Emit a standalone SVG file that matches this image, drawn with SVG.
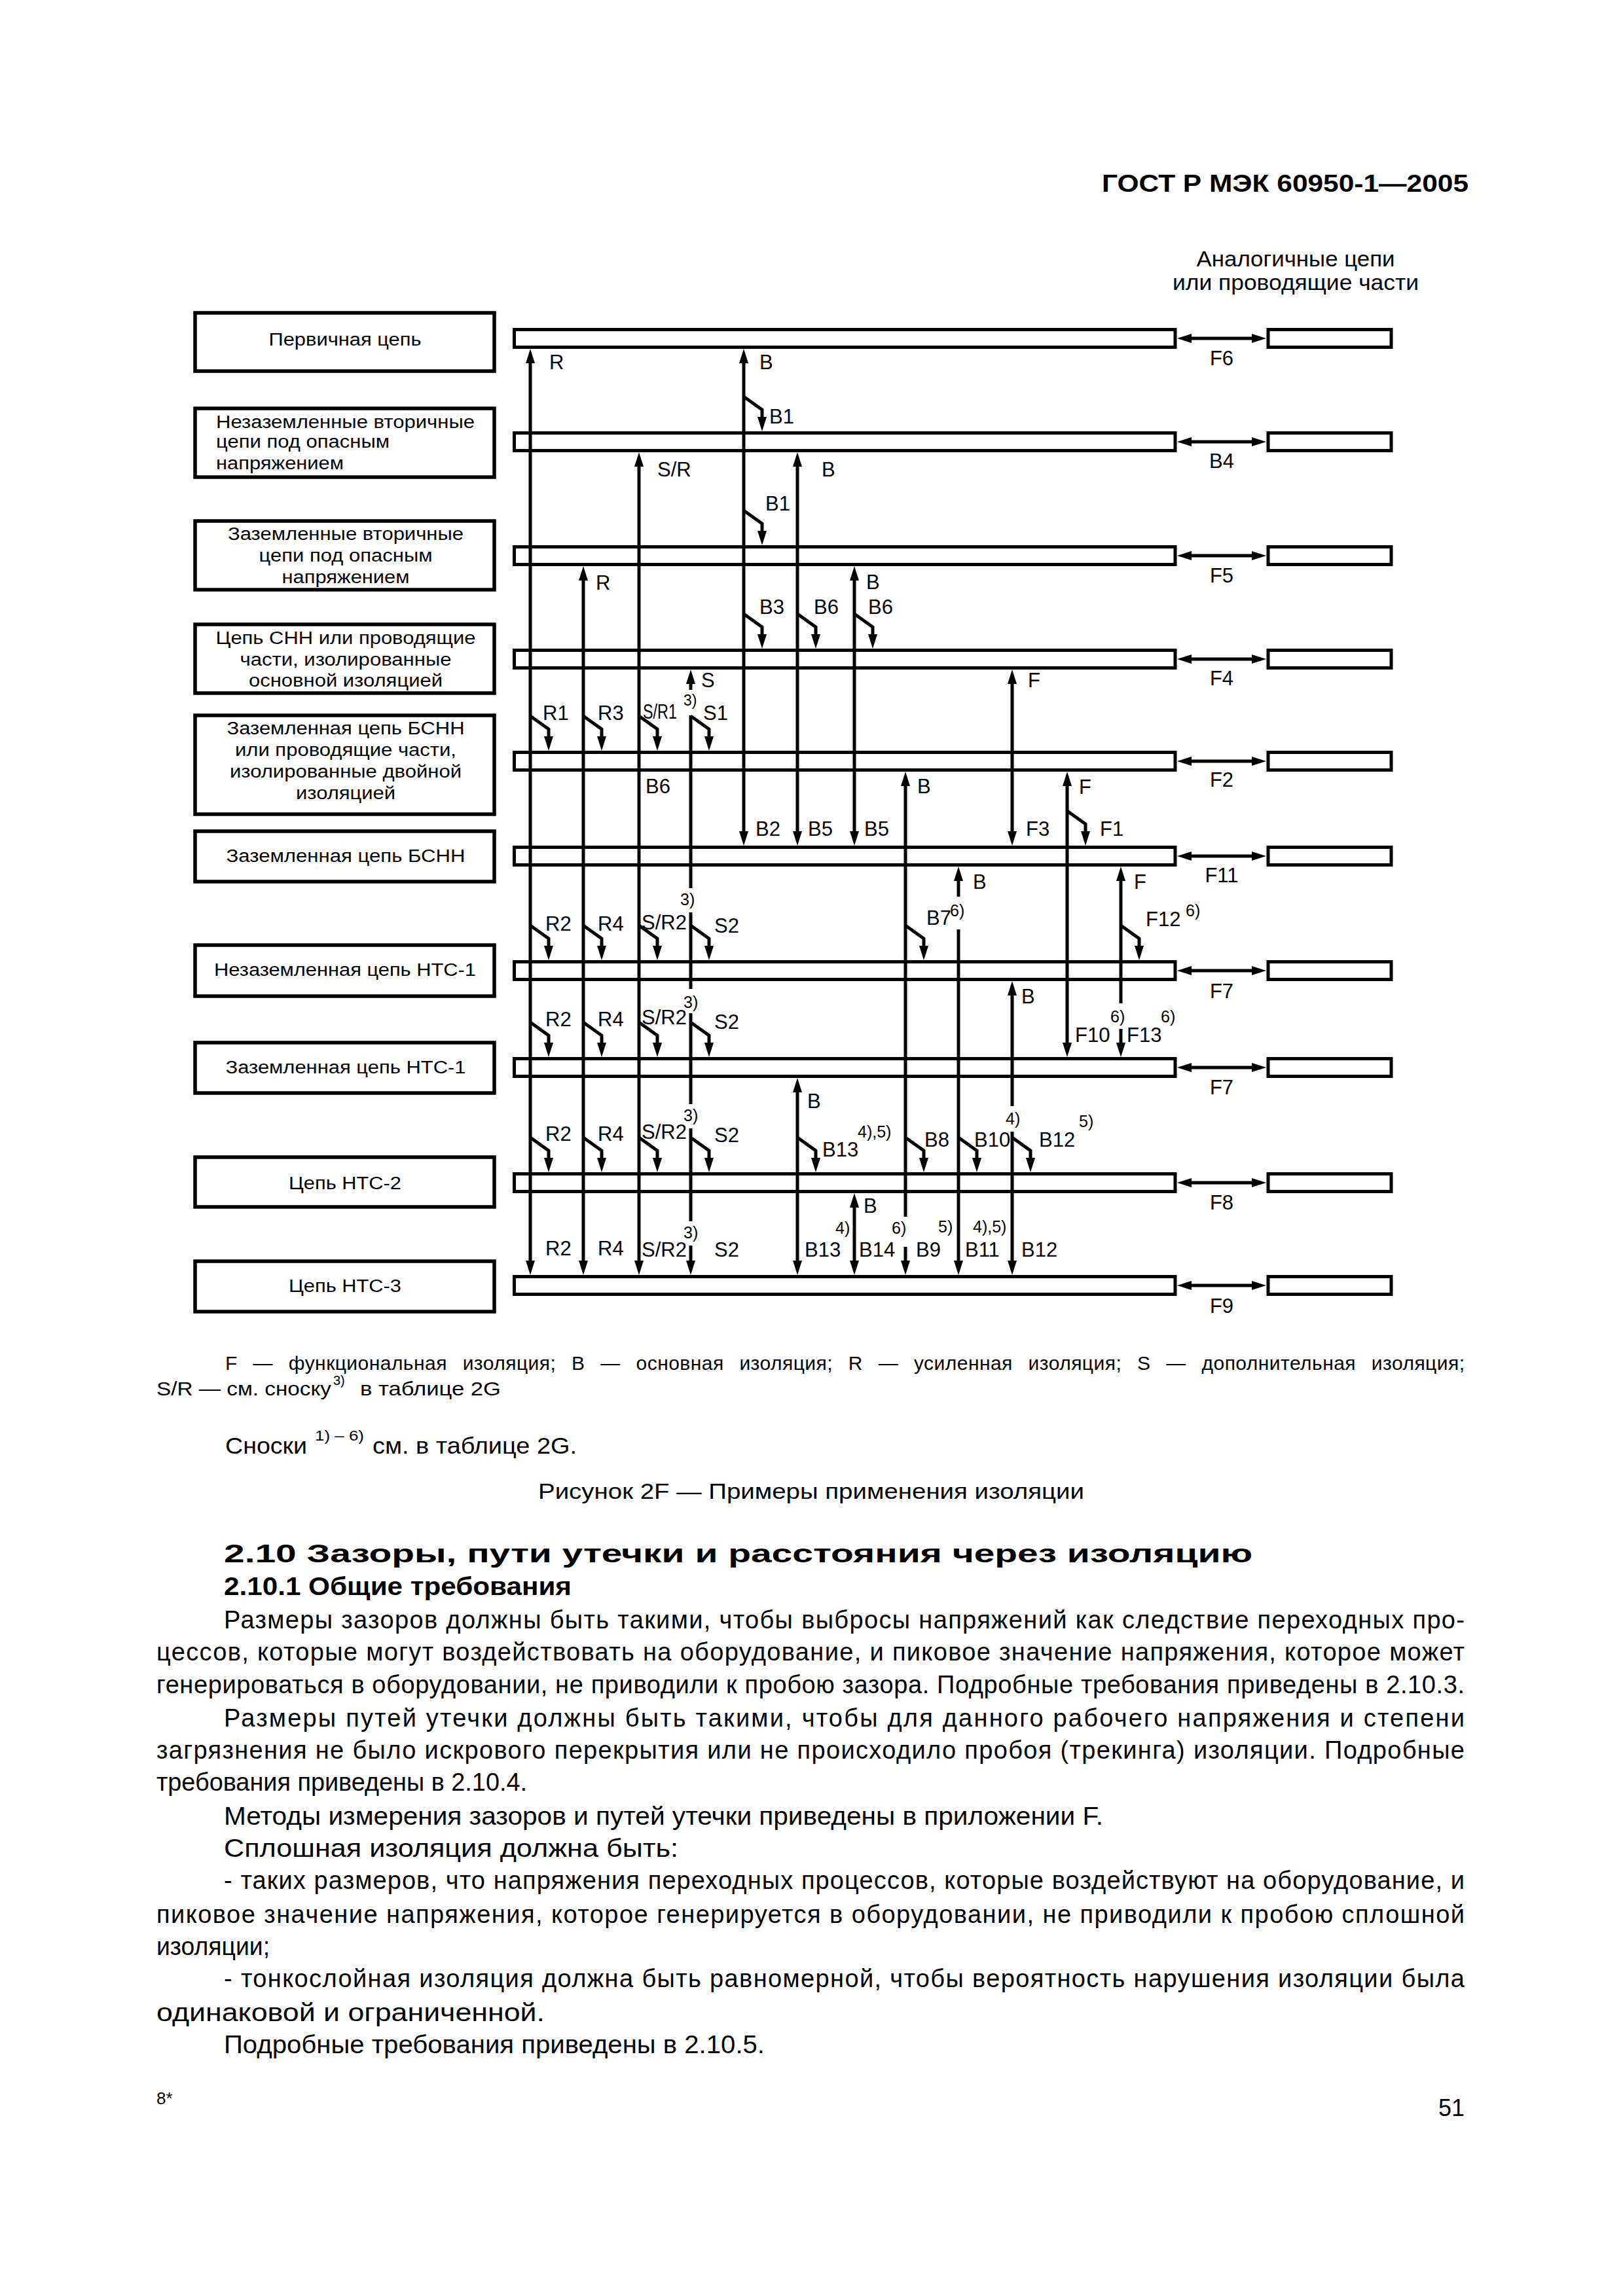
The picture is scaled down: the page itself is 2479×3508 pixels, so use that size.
<svg xmlns="http://www.w3.org/2000/svg" width="2479" height="3508" viewBox="0 0 2479 3508">
<defs>
<style>
text{font-family:"Liberation Sans",Arial,Helvetica,sans-serif;fill:#000}
.bx{fill:#fff;stroke:#000;stroke-width:5.5}
.bar{fill:none;stroke:#000;stroke-width:5}
.ln{fill:none;stroke:#000;stroke-width:5}
.s{marker-start:url(#ah)}
.e{marker-end:url(#ah)}
.lb{font-size:31px}
.sp{font-size:25px}
.bt{font-size:27px;text-anchor:middle}
.bl{font-size:27px}
.rl{font-size:31px;text-anchor:middle}
.body{font-size:38px}
.lg{font-size:30px}
</style>
<marker id="ah" viewBox="0 0 22 14" refX="10" refY="7" markerWidth="22" markerHeight="14" markerUnits="userSpaceOnUse" orient="auto-start-reverse"><path d="M0,0L22,7L0,14z" fill="#000"/></marker>
</defs>
<rect width="2479" height="3508" fill="#fff"/>

<text x="1683" y="293" font-size="37" font-weight="bold" textLength="560" lengthAdjust="spacingAndGlyphs">ГОСТ Р МЭК 60950-1—2005</text>
<text x="1979" y="407" font-size="33" text-anchor="middle" textLength="303" lengthAdjust="spacingAndGlyphs">Аналогичные цепи</text>
<text x="1979" y="443" font-size="33" text-anchor="middle" textLength="376" lengthAdjust="spacingAndGlyphs">или проводящие части</text>

<!-- left boxes -->
<g id="box-1"><rect class="bx" x="298" y="478" width="457" height="89"/><text class="bt" x="527" y="528" textLength="233" lengthAdjust="spacingAndGlyphs">Первичная цепь</text></g>
<g id="box-2"><rect class="bx" x="298" y="624" width="457" height="105"/>
<text class="bl" x="330" y="654" textLength="395" lengthAdjust="spacingAndGlyphs">Незаземленные вторичные</text>
<text class="bl" x="330" y="684" textLength="265" lengthAdjust="spacingAndGlyphs">цепи под опасным</text>
<text class="bl" x="330" y="717" textLength="195" lengthAdjust="spacingAndGlyphs">напряжением</text></g>
<g id="box-3"><rect class="bx" x="298" y="796" width="457" height="105"/>
<text class="bt" x="528" y="825" textLength="360" lengthAdjust="spacingAndGlyphs">Заземленные вторичные</text>
<text class="bt" x="528" y="858" textLength="265" lengthAdjust="spacingAndGlyphs">цепи под опасным</text>
<text class="bt" x="528" y="891" textLength="195" lengthAdjust="spacingAndGlyphs">напряжением</text></g>
<g id="box-4"><rect class="bx" x="298" y="954" width="457" height="105"/>
<text class="bt" x="528" y="984" textLength="397" lengthAdjust="spacingAndGlyphs">Цепь СНН или проводящие</text>
<text class="bt" x="528" y="1017" textLength="323" lengthAdjust="spacingAndGlyphs">части, изолированные</text>
<text class="bt" x="528" y="1049" textLength="296" lengthAdjust="spacingAndGlyphs">основной изоляцией</text></g>
<g id="box-5"><rect class="bx" x="298" y="1093" width="457" height="151"/>
<text class="bt" x="528" y="1122" textLength="363" lengthAdjust="spacingAndGlyphs">Заземленная цепь БСНН</text>
<text class="bt" x="528" y="1155" textLength="338" lengthAdjust="spacingAndGlyphs">или проводящие части,</text>
<text class="bt" x="528" y="1188" textLength="354" lengthAdjust="spacingAndGlyphs">изолированные двойной</text>
<text class="bt" x="528" y="1221" textLength="152" lengthAdjust="spacingAndGlyphs">изоляцией</text></g>
<g id="box-6"><rect class="bx" x="298" y="1270" width="457" height="77"/><text class="bt" x="528" y="1317" textLength="365" lengthAdjust="spacingAndGlyphs">Заземленная цепь БСНН</text></g>
<g id="box-7"><rect class="bx" x="298" y="1444" width="457" height="78"/><text class="bt" x="527" y="1491" textLength="400" lengthAdjust="spacingAndGlyphs">Незаземленная цепь НТС-1</text></g>
<g id="box-8"><rect class="bx" x="298" y="1593" width="457" height="77"/><text class="bt" x="528" y="1640" textLength="367" lengthAdjust="spacingAndGlyphs">Заземленная цепь НТС-1</text></g>
<g id="box-9"><rect class="bx" x="298" y="1768" width="457" height="76"/><text class="bt" x="527" y="1817" textLength="172" lengthAdjust="spacingAndGlyphs">Цепь НТС-2</text></g>
<g id="box-10"><rect class="bx" x="298" y="1927" width="457" height="77"/><text class="bt" x="527" y="1974" textLength="172" lengthAdjust="spacingAndGlyphs">Цепь НТС-3</text></g>

<!-- bars -->
<g id="bar-1"><rect class="bar" x="785.5" y="503.5" width="1009.5" height="27"/></g>
<g id="bar-2"><rect class="bar" x="785.5" y="661.5" width="1009.5" height="27"/></g>
<g id="bar-3"><rect class="bar" x="785.5" y="835.5" width="1009.5" height="27"/></g>
<g id="bar-4"><rect class="bar" x="785.5" y="993.5" width="1009.5" height="27"/></g>
<g id="bar-5"><rect class="bar" x="785.5" y="1149.5" width="1009.5" height="27"/></g>
<g id="bar-6"><rect class="bar" x="785.5" y="1294.5" width="1009.5" height="27"/></g>
<g id="bar-7"><rect class="bar" x="785.5" y="1469.5" width="1009.5" height="27"/></g>
<g id="bar-8"><rect class="bar" x="785.5" y="1617.5" width="1009.5" height="27"/></g>
<g id="bar-9"><rect class="bar" x="785.5" y="1793.5" width="1009.5" height="27"/></g>
<g id="bar-10"><rect class="bar" x="785.5" y="1950.5" width="1009.5" height="27"/></g>

<!-- right boxes -->
<g id="rb-1"><rect class="bar" x="1937" y="503.5" width="188" height="27"/></g>
<g id="rb-2"><rect class="bar" x="1937" y="661.5" width="188" height="27"/></g>
<g id="rb-3"><rect class="bar" x="1937" y="835.5" width="188" height="27"/></g>
<g id="rb-4"><rect class="bar" x="1937" y="993.5" width="188" height="27"/></g>
<g id="rb-5"><rect class="bar" x="1937" y="1149.5" width="188" height="27"/></g>
<g id="rb-6"><rect class="bar" x="1937" y="1294.5" width="188" height="27"/></g>
<g id="rb-7"><rect class="bar" x="1937" y="1469.5" width="188" height="27"/></g>
<g id="rb-8"><rect class="bar" x="1937" y="1617.5" width="188" height="27"/></g>
<g id="rb-9"><rect class="bar" x="1937" y="1793.5" width="188" height="27"/></g>
<g id="rb-10"><rect class="bar" x="1937" y="1950.5" width="188" height="27"/></g>

<g id="connectors">
<path class="ln s e" d="M1810,517H1922"/>
<path class="ln s e" d="M1810,675H1922"/>
<path class="ln s e" d="M1810,849H1922"/>
<path class="ln s e" d="M1810,1007H1922"/>
<path class="ln s e" d="M1810,1163H1922"/>
<path class="ln s e" d="M1810,1308H1922"/>
<path class="ln s e" d="M1810,1483H1922"/>
<path class="ln s e" d="M1810,1631H1922"/>
<path class="ln s e" d="M1810,1807H1922"/>
<path class="ln s e" d="M1810,1964H1922"/>
<path class="ln s e" d="M810,545V1936"/>
<path class="ln s e" d="M891,877V1936"/>
<path class="ln s e" d="M976,703V1936"/>
<path class="ln s" d="M1055,1035V1054"/>
<path class="ln" d="M1055,1093V1357"/>
<path class="ln" d="M1055,1394V1511"/>
<path class="ln" d="M1055,1548V1687"/>
<path class="ln" d="M1055,1724V1866"/>
<path class="ln e" d="M1055,1903V1936"/>
<path class="ln s e" d="M1136,545V1280"/>
<path class="ln s e" d="M1218,703V1280"/>
<path class="ln s e" d="M1305,877V1280"/>
<path class="ln s" d="M1383,1191V1859"/>
<path class="ln e" d="M1383,1905V1936"/>
<path class="ln s e" d="M1546,1035V1280"/>
<path class="ln s e" d="M1630,1191V1603"/>
<path class="ln s" d="M1464,1336V1370"/>
<path class="ln e" d="M1464,1420V1936"/>
<path class="ln s" d="M1712,1336V1533"/>
<path class="ln e" d="M1712,1572V1603"/>
<path class="ln s" d="M1546,1511V1690"/>
<path class="ln e" d="M1546,1729V1936"/>
<path class="ln s e" d="M1218,1659V1936"/>
<path class="ln s e" d="M1305,1835V1936"/>
<path class="ln e" d="M1136,606L1164,626V647"/>
<path class="ln e" d="M1136,780L1164,800V821"/>
<path class="ln e" d="M1136,938L1164,958V979"/>
<path class="ln e" d="M1218,938L1246,958V979"/>
<path class="ln e" d="M1305,938L1333,958V979"/>
<path class="ln e" d="M810,1094L838,1114V1135"/>
<path class="ln e" d="M891,1094L919,1114V1135"/>
<path class="ln e" d="M976,1094L1004,1114V1135"/>
<path class="ln e" d="M1055,1094L1083,1114V1135"/>
<path class="ln e" d="M1630,1239L1658,1259V1280"/>
<path class="ln e" d="M810,1414L838,1434V1455"/>
<path class="ln e" d="M891,1414L919,1434V1455"/>
<path class="ln e" d="M976,1414L1004,1434V1455"/>
<path class="ln e" d="M1055,1414L1083,1434V1455"/>
<path class="ln e" d="M1383,1414L1411,1434V1455"/>
<path class="ln e" d="M1712,1414L1740,1434V1455"/>
<path class="ln e" d="M810,1562L838,1582V1603"/>
<path class="ln e" d="M891,1562L919,1582V1603"/>
<path class="ln e" d="M976,1562L1004,1582V1603"/>
<path class="ln e" d="M1055,1562L1083,1582V1603"/>
<path class="ln e" d="M810,1738L838,1758V1779"/>
<path class="ln e" d="M891,1738L919,1758V1779"/>
<path class="ln e" d="M976,1738L1004,1758V1779"/>
<path class="ln e" d="M1055,1738L1083,1758V1779"/>
<path class="ln e" d="M1218,1738L1246,1758V1779"/>
<path class="ln e" d="M1383,1738L1411,1758V1779"/>
<path class="ln e" d="M1464,1738L1492,1758V1779"/>
<path class="ln e" d="M1546,1738L1574,1758V1779"/>
</g>

<g id="labels">
<text class="rl" x="1866" y="558">F6</text>
<text class="rl" x="1866" y="715">B4</text>
<text class="rl" x="1866" y="890">F5</text>
<text class="rl" x="1866" y="1047">F4</text>
<text class="rl" x="1866" y="1202">F2</text>
<text class="rl" x="1866" y="1348">F11</text>
<text class="rl" x="1866" y="1525">F7</text>
<text class="rl" x="1866" y="1672">F7</text>
<text class="rl" x="1866" y="1848">F8</text>
<text class="rl" x="1866" y="2006">F9</text>

<text class="lb" x="839" y="564">R</text>
<text class="lb" x="1160" y="564">B</text>
<text class="lb" x="1175" y="647">B1</text>
<text class="lb" x="1004" y="728">S/R</text>
<text class="lb" x="1255" y="728">B</text>
<text class="lb" x="1169" y="780">B1</text>
<text class="lb" x="910" y="901">R</text>
<text class="lb" x="1323" y="900">B</text>
<text class="lb" x="1160" y="938">B3</text>
<text class="lb" x="1243" y="938">B6</text>
<text class="lb" x="1326" y="938">B6</text>
<text class="lb" x="1071" y="1050">S</text>
<text x="1044" y="1078" font-size="23">3)</text>
<text class="lb" x="982" y="1098" font-size="26" textLength="52" lengthAdjust="spacingAndGlyphs">S/R1</text>
<text class="lb" x="829" y="1100">R1</text>
<text class="lb" x="913" y="1100">R3</text>
<text class="lb" x="1074" y="1100">S1</text>
<text class="lb" x="986" y="1212">B6</text>
<text class="lb" x="1401" y="1212">B</text>
<text class="lb" x="1570" y="1050">F</text>
<text class="lb" x="1648" y="1213">F</text>
<text class="lb" x="1154" y="1277">B2</text>
<text class="lb" x="1234" y="1277">B5</text>
<text class="lb" x="1320" y="1277">B5</text>
<text class="lb" x="1567" y="1277">F3</text>
<text class="lb" x="1680" y="1277">F1</text>
<text class="lb" x="1486" y="1358">B</text>
<text class="lb" x="1732" y="1358">F</text>
<text class="sp" x="1039" y="1383">3)</text>
<text class="lb" x="1415" y="1413">B7</text>
<text class="sp" x="1451" y="1400">6)</text>
<text class="lb" x="1750" y="1415">F12</text>
<text class="sp" x="1811" y="1400">6)</text>
<text class="lb" x="833" y="1422">R2</text>
<text class="lb" x="913" y="1422">R4</text>
<text class="lb" x="980" y="1420" font-size="29">S/R2</text>
<text class="lb" x="1091" y="1425">S2</text>
<text class="lb" x="1560" y="1533">B</text>
<text class="sp" x="1044" y="1540">3)</text>
<text class="sp" x="1696" y="1562">6)</text>
<text class="sp" x="1773" y="1562">6)</text>
<text class="lb" x="1642" y="1592">F10</text>
<text class="lb" x="1721" y="1592">F13</text>
<text class="lb" x="833" y="1568">R2</text>
<text class="lb" x="913" y="1568">R4</text>
<text class="lb" x="980" y="1565" font-size="29">S/R2</text>
<text class="lb" x="1091" y="1572">S2</text>
<text class="lb" x="1233" y="1693">B</text>
<text class="sp" x="1044" y="1713">3)</text>
<text class="sp" x="1536" y="1718">4)</text>
<text class="sp" x="1648" y="1722">5)</text>
<text class="sp" x="1310" y="1738">4),5)</text>
<text class="lb" x="833" y="1743">R2</text>
<text class="lb" x="913" y="1743">R4</text>
<text class="lb" x="980" y="1740" font-size="29">S/R2</text>
<text class="lb" x="1091" y="1745">S2</text>
<text class="lb" x="1412" y="1752">B8</text>
<text class="lb" x="1488" y="1752">B10</text>
<text class="lb" x="1587" y="1752">B12</text>
<text class="lb" x="1256" y="1767">B13</text>
<text class="lb" x="1319" y="1853">B</text>
<text class="sp" x="1276" y="1885">4)</text>
<text class="sp" x="1362" y="1885">6)</text>
<text class="sp" x="1433" y="1883">5)</text>
<text class="sp" x="1486" y="1883">4),5)</text>
<text class="sp" x="1044" y="1892">3)</text>
<text class="lb" x="833" y="1918">R2</text>
<text class="lb" x="913" y="1918">R4</text>
<text class="lb" x="980" y="1920" font-size="29">S/R2</text>
<text class="lb" x="1091" y="1920">S2</text>
<text class="lb" x="1229" y="1920">B13</text>
<text class="lb" x="1312" y="1920">B14</text>
<text class="lb" x="1399" y="1920">B9</text>
<text class="lb" x="1474" y="1920">B11</text>
<text class="lb" x="1560" y="1920">B12</text>
</g>

<g id="legend">
<text class="lg" x="344" y="2093" word-spacing="15" textLength="1893">F — функциональная изоляция; B — основная изоляция; R — усиленная изоляция; S — дополнительная изоляция;</text>
<text class="lg" x="239" y="2132" textLength="267" lengthAdjust="spacingAndGlyphs">S/R — см. сноску</text>
<text x="509" y="2116" font-size="20">3)</text>
<text class="lg" x="550" y="2132" textLength="215" lengthAdjust="spacingAndGlyphs">в таблице 2G</text>
<text x="344" y="2221" font-size="35" textLength="125" lengthAdjust="spacingAndGlyphs">Сноски</text>
<text x="481" y="2201" font-size="22" textLength="75" lengthAdjust="spacingAndGlyphs">1) – 6)</text>
<text x="569" y="2221" font-size="35" textLength="312" lengthAdjust="spacingAndGlyphs">см. в таблице 2G.</text>
<text x="822" y="2290" font-size="33" textLength="834" lengthAdjust="spacingAndGlyphs">Рисунок 2F — Примеры применения изоляции</text>
</g>

<g id="body">
<text class="body" x="342" y="2387" font-size="40" font-weight="bold" textLength="1571" lengthAdjust="spacingAndGlyphs">2.10 Зазоры, пути утечки и расстояния через изоляцию</text>
<text class="body" x="342" y="2437" font-weight="bold" textLength="531" lengthAdjust="spacingAndGlyphs">2.10.1 Общие требования</text>
<text class="body" x="342" y="2488" textLength="1895">Размеры зазоров должны быть такими, чтобы выбросы напряжений как следствие переходных про-</text>
<text class="body" x="239" y="2537" textLength="1998">цессов, которые могут воздействовать на оборудование, и пиковое значение напряжения, которое может</text>
<text class="body" x="239" y="2587" textLength="1998">генерироваться в оборудовании, не приводили к пробою зазора. Подробные требования приведены в 2.10.3.</text>
<text class="body" x="342" y="2638" textLength="1895">Размеры  путей утечки должны быть такими, чтобы для данного рабочего напряжения и степени</text>
<text class="body" x="239" y="2687" textLength="1998">загрязнения не было искрового перекрытия или не происходило пробоя (трекинга) изоляции. Подробные</text>
<text class="body" x="239" y="2736" textLength="566" lengthAdjust="spacingAndGlyphs">требования приведены в 2.10.4.</text>
<text class="body" x="342" y="2788" textLength="1343" lengthAdjust="spacingAndGlyphs">Методы измерения зазоров и путей утечки приведены в приложении F.</text>
<text class="body" x="342" y="2837" textLength="694" lengthAdjust="spacingAndGlyphs">Сплошная изоляция должна быть:</text>
<text class="body" x="342" y="2886" textLength="1895">- таких размеров, что напряжения переходных процессов, которые воздействуют на оборудование, и</text>
<text class="body" x="239" y="2938" textLength="1998">пиковое значение напряжения, которое генерируется в оборудовании, не приводили к пробою сплошной</text>
<text class="body" x="239" y="2987" textLength="173" lengthAdjust="spacingAndGlyphs">изоляции;</text>
<text class="body" x="342" y="3036" textLength="1895">- тонкослойная изоляция должна быть равномерной, чтобы вероятность нарушения изоляции была</text>
<text class="body" x="239" y="3088" textLength="593" lengthAdjust="spacingAndGlyphs">одинаковой и ограниченной.</text>
<text class="body" x="342" y="3137" textLength="826" lengthAdjust="spacingAndGlyphs">Подробные требования приведены в 2.10.5.</text>
<text x="239" y="3215" font-size="26">8*</text>
<text x="2237" y="3233" font-size="36" text-anchor="end">51</text>
</g>
</svg>
